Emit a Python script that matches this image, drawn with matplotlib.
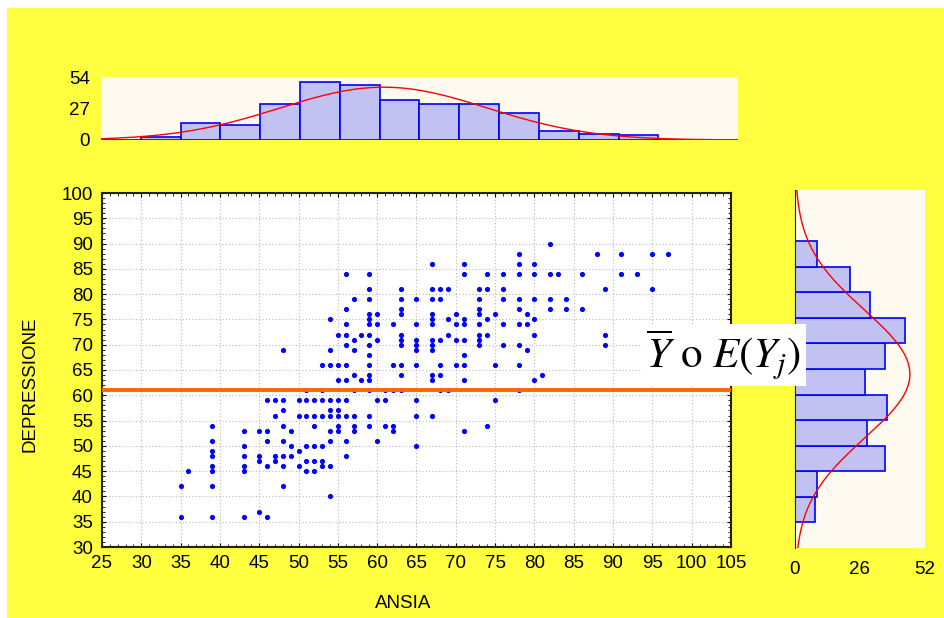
import numpy as np
import matplotlib
matplotlib.use("Agg")
import matplotlib.pyplot as plt
from matplotlib.patches import Rectangle
from matplotlib.ticker import MultipleLocator

plt.rcParams['font.family'] = ['Liberation Sans', 'DejaVu Sans']
plt.rcParams['mathtext.fontset'] = 'stix'

# ANSIA (x) -> list of DEPRESSIONE (y) values
points = {
    35: [42, 36], 36: [45],
    39: [54, 51, 49, 48, 46, 45, 42, 36],
    43: [53, 50, 48, 46, 45, 36],
    45: [53, 48, 47, 37],
    46: [59, 53, 51, 46, 36],
    47: [59, 56, 48, 47],
    48: [69, 59, 57, 54, 51, 48, 46, 42],
    49: [53, 50, 48],
    50: [59, 56, 49, 46],
    51: [61, 59, 56, 50, 47, 45],
    52: [59, 56, 54, 50, 47, 45],
    53: [66, 61, 59, 56, 50, 47, 46],
    54: [75, 69, 66, 59, 57, 56, 53, 51, 46, 40],
    55: [72, 66, 63, 59, 57, 56, 54, 53],
    56: [84, 77, 74, 72, 70, 66, 63, 59, 56, 51, 48],
    57: [79, 71, 69, 64, 61, 56, 54, 53],
    58: [72, 63],
    59: [84, 81, 79, 76, 75, 74, 72, 70, 68, 66, 64, 63, 61, 56, 54],
    60: [76, 74, 71, 59, 51],
    61: [61, 59, 54],
    62: [74, 66, 61, 54, 53],
    63: [81, 79, 77, 76, 72, 71, 70, 66, 64, 61],
    65: [79, 74, 71, 70, 69, 66, 59, 56, 50],
    67: [86, 81, 79, 76, 75, 74, 71, 70, 69, 64, 63, 56],
    68: [81, 79, 71, 66, 64, 61],
    69: [81, 75, 72, 61],
    70: [76, 74, 71, 66],
    71: [86, 84, 75, 74, 71, 68, 66, 63, 53],
    73: [81, 79, 77, 76, 74, 72, 71, 70],
    74: [84, 81, 75, 72, 54],
    75: [76, 66, 59],
    76: [84, 81, 79, 74, 70],
    78: [88, 86, 84, 79, 77, 74, 70, 66, 61],
    79: [76, 74, 69],
    80: [86, 84, 79, 75, 72, 63],
    81: [64],
    82: [90, 84, 79, 77],
    83: [84], 84: [79, 77], 86: [84, 77],
    88: [88], 89: [81, 72, 70],
    91: [88, 84], 93: [84], 95: [88, 81], 97: [88],
}
ansia = [x for x, ys in points.items() for _ in ys]
depressione = [y for ys in points.values() for y in ys]

# marginal histograms
ansia_edges = list(range(25, 110, 5))
ansia_counts = [0, 3, 15, 13, 31, 50, 47, 34, 31, 31, 23, 8, 5, 4, 0, 0]
dep_edges = list(range(35, 95, 5))
dep_counts = [8, 9, 36, 29, 37, 28, 36, 44, 30, 22, 9]

# fitted normal curves
ansia_mean, ansia_sd = 60.5, 13.0
dep_mean, dep_sd = 64.0, 12.5
mean_line = 61  # Y bar

FS = 13.5
W, H = 945, 618

fig = plt.figure(figsize=(9.45, 6.18), dpi=100)
fig.patch.set_facecolor('white')
fig.patches.append(Rectangle((7 / W, 0), 1, 1 - 8 / H, transform=fig.transFigure,
                             facecolor='#ffff40', edgecolor='none', zorder=-10))

bar_fc = '#c2c2f2'
bar_ec = '#0000ff'
cream = '#fffaf0'

# main scatter (drawn above the marginals so the label box can overlap them)
ax = fig.add_axes([102 / W, 1 - 547 / H, 629 / W, 354 / H], zorder=2)
ax.scatter(ansia, depressione, s=14, color='#0000ff', zorder=3, linewidths=0)
ax.axhline(mean_line, color='#ff6600', lw=2.8, zorder=6)
ax.set_xlim(25, 105)
ax.set_ylim(30, 100)
ax.xaxis.set_major_locator(MultipleLocator(5))
ax.yaxis.set_major_locator(MultipleLocator(5))
ax.xaxis.set_minor_locator(MultipleLocator(1))
ax.yaxis.set_minor_locator(MultipleLocator(1))
ax.grid(True, which='major', color='#b8b8b8', linestyle=(0, (1, 2)), lw=0.8)
ax.tick_params(which='both', direction='in', top=True, right=True, labelsize=FS)
ax.tick_params(axis='x', pad=6)
ax.tick_params(axis='y', pad=6.5)
ax.tick_params(which='major', length=3)
ax.tick_params(which='minor', length=2)
for sp in ax.spines.values():
    sp.set_linewidth(1.5)
    sp.set_color('#222200')
ax.set_xlabel('ANSIA', fontsize=FS)
ax.set_ylabel('DEPRESSIONE', fontsize=FS)
ax.xaxis.set_label_coords(403 / W, 1 - 603 / H, transform=fig.transFigure)
ax.yaxis.set_label_coords(30 / W, 1 - 384 / H, transform=fig.transFigure)
ax.xaxis.label.set_va('center')
ax.yaxis.label.set_va('center')
ax.text(724 / W, 1 - 355 / H, r'$\overline{Y}\ \mathrm{o}\ E(Y_j)$', fontsize=31,
        ha='center', va='center', zorder=5, clip_on=False, transform=fig.transFigure,
        bbox=dict(facecolor='white', edgecolor='none', boxstyle='square,pad=0.1'))

# top histogram
axt = fig.add_axes([101 / W, 1 - 140 / H, 637 / W, 63 / H])
axt.set_facecolor(cream)
axt.bar(ansia_edges[:-1], ansia_counts, width=5, align='edge', color=bar_fc,
        edgecolor=bar_ec, lw=1.2)
xs = np.linspace(25, 105, 300)
bw = 5
axt.plot(xs, sum(ansia_counts) * bw / (ansia_sd * np.sqrt(2 * np.pi)) *
         np.exp(-0.5 * ((xs - ansia_mean) / ansia_sd) ** 2), color='red', lw=1)
axt.set_xlim(25, 105)
axt.set_ylim(0, 54)
axt.set_yticks([0, 27, 54])
axt.set_xticks([])
axt.tick_params(axis='y', length=0, labelsize=FS, pad=8)
for sp in axt.spines.values():
    sp.set_visible(False)

# right histogram
axr = fig.add_axes([795 / W, 1 - 548 / H, 130 / W, 358 / H])
axr.set_facecolor(cream)
axr.barh(dep_edges[:-1], dep_counts, height=5, align='edge', color=bar_fc,
         edgecolor=bar_ec, lw=1.2)
ys = np.linspace(30, 100, 300)
axr.plot(sum(dep_counts) * bw / (dep_sd * np.sqrt(2 * np.pi)) *
         np.exp(-0.5 * ((ys - dep_mean) / dep_sd) ** 2), ys, color='red', lw=1)
axr.set_xlim(0, 52)
axr.set_ylim(30, 100)
axr.set_xticks([0, 26, 52])
axr.set_yticks([])
axr.tick_params(axis='x', length=0, labelsize=FS, pad=9)
for sp in axr.spines.values():
    sp.set_visible(False)
axr.spines['left'].set_visible(True)
axr.spines['left'].set_color(bar_ec)

fig.savefig('out.png', dpi=100)
